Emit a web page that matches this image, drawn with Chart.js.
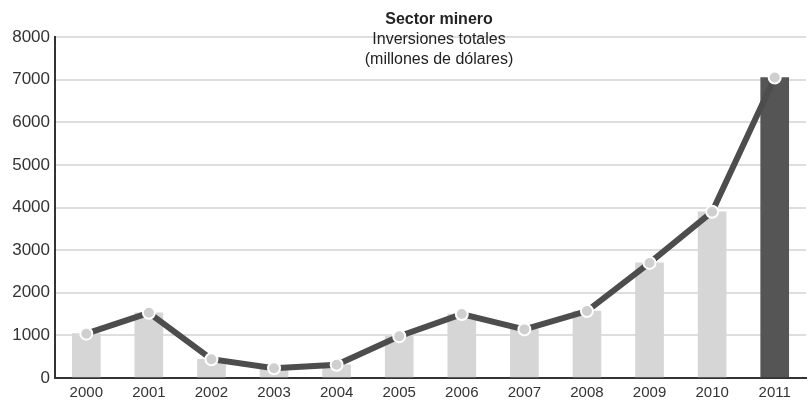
<!DOCTYPE html>
<html>
<head>
<meta charset="utf-8">
<script src="https://cdn.jsdelivr.net/npm/chart.js@4.4.0/dist/chart.umd.min.js"></script>
<style>
  html, body { margin: 0; padding: 0; background: #fff; overflow: hidden; }
  canvas { display: block; }
</style>
</head>
<body>
<canvas id="myChart" width="814" height="401"></canvas>
<script>
var anios = ['2000', '2001', '2002', '2003', '2004', '2005', '2006', '2007', '2008', '2009', '2010', '2011'];
var inversion = [1040, 1530, 440, 230, 310, 980, 1500, 1140, 1570, 2700, 3900, 7050];
var titulo = ['Sector minero', 'Inversiones totales', '(millones de dólares)'];

// last year stands out in dark grey
var colorBarras = [];
for (var i = 0; i < anios.length; i++) {
	colorBarras.push(i == anios.length - 1 ? '#555555' : '#d6d6d6');
}

// title sits inside the plot, above the 7000 line
var tituloPlugin = {
	id: 'tituloPlugin',
	afterDraw: function(chart) {
		var ctx = chart.ctx;
		ctx.save();
		ctx.fillStyle = '#222';
		ctx.textAlign = 'center';
		ctx.textBaseline = 'middle';
		ctx.font = 'bold 16px "Liberation Sans", Arial, sans-serif';
		ctx.fillText(titulo[0], 439, 20);
		ctx.font = '16px "Liberation Sans", Arial, sans-serif';
		ctx.fillText(titulo[1], 439, 40);
		ctx.fillText(titulo[2], 439, 60);
		ctx.restore();
	}
};

var ctx = document.getElementById('myChart').getContext('2d');
var myChart = new Chart(ctx, {
	data: {
		labels: anios,
		datasets: [
		{
			type: 'line',
			data: inversion,
			order: 0,
			lineTension: 0,
			borderColor: '#4d4d4d',
			borderWidth: 6,
			pointRadius: 6,
			pointBackgroundColor: '#cfcfcf',
			pointBorderColor: '#ffffff',
			pointBorderWidth: 2,
			fill: false
		},
		{
			type: 'bar',
			data: inversion,
			order: 1,
			backgroundColor: colorBarras,
			barThickness: 28
		}]
	},
	options: {
		responsive: false,
		animation: false,
		layout: { padding: { top: 37, left: 0, right: 0, bottom: 0 } },
		plugins: {
			legend: { display: false },
			tooltip: { enabled: false }
		},
		scales: {
			x: {
				afterFit: function(scale) { scale.height = 23; },
				grid: { display: false, drawTicks: false },
				border: { color: '#333', width: 2 },
				ticks: {
					color: '#333',
					padding: 6,
					font: { family: '"Liberation Sans", Arial, sans-serif', size: 15 }
				}
			},
			y: {
				min: 0,
				max: 8000,
				afterFit: function(scale) { scale.width = 55; },
				grid: { color: '#dedede', lineWidth: 2, drawTicks: false },
				border: { color: '#333', width: 2 },
				ticks: {
					stepSize: 1000,
					color: '#333',
					padding: 5,
					callback: function(valor) { return String(valor); },
					font: { family: '"Liberation Sans", Arial, sans-serif', size: 17 }
				}
			}
		}
	},
	plugins: [tituloPlugin]
});
</script>
</body>
</html>
